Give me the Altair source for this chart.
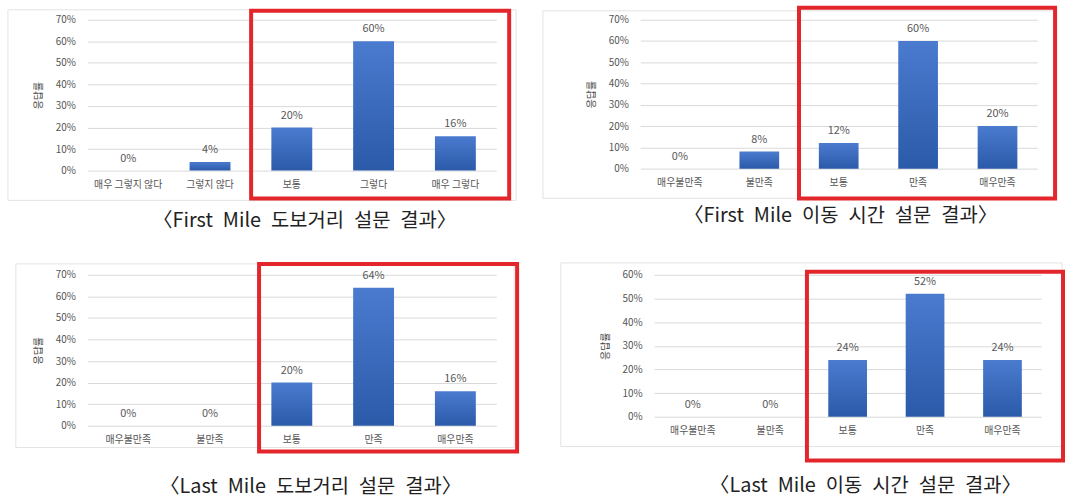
import altair as alt
import pandas as pd

FONT = "Noto Sans CJK KR"

# ---- data ----
cats_agree = ["매우 그렇지 않다", "그렇지 않다", "보통", "그렇다", "매우 그렇다"]
cats_sat = ["매우불만족", "불만족", "보통", "만족", "매우만족"]

p1_vals = [0, 4, 20, 60, 16]
p2_vals = [0, 8, 12, 60, 20]
p3_vals = [0, 0, 20, 64, 16]
p4_vals = [0, 0, 24, 52, 24]

captions = [
    "〈First Mile 도보거리 설문 결과〉",
    "〈First Mile 이동 시간 설문 결과〉",
    "〈Last Mile 도보거리 설문 결과〉",
    "〈Last Mile 이동 시간 설문 결과〉",
]
y_title = "응답률"

bar_fill = alt.Gradient(
    gradient="linear",
    stops=[alt.GradientStop(color="#4b7bcf", offset=0),
           alt.GradientStop(color="#2b5aa9", offset=1)],
    x1=0, x2=0, y1=0, y2=1,
)

SHIFT = 4  # vertical correction of each panel inside its quadrant


def panel(cats, vals, caption, ymax, w, h, bounds, frame, red, cap_xy):
    df = pd.DataFrame({"cat": cats, "pct": vals})
    one = pd.DataFrame({"caption": [caption]})
    ticks = list(range(0, ymax + 1, 10))

    x = alt.X("cat:N", sort=cats,
              scale=alt.Scale(paddingInner=0.5, paddingOuter=0.25),
              axis=alt.Axis(title=None, labelAngle=0, labelPadding=9,
                            labelFontSize=10, labelColor="#555555",
                            labelFont=FONT, grid=False, domain=False, ticks=False))
    y = alt.Y("pct:Q", scale=alt.Scale(domain=[0, ymax], nice=False),
              axis=alt.Axis(title=y_title, values=ticks,
                            labelExpr="datum.value + '%'",
                            labelFontSize=10, labelColor="#555555", labelFont=FONT,
                            labelPadding=12, titleFontSize=10, titleColor="#444444",
                            titleFont=FONT, titleFontWeight="normal", titlePadding=12,
                            grid=True, gridColor="#d9d9d9", domain=False, ticks=False))

    base = alt.Chart(df)
    bars = base.mark_bar(fill=bar_fill).encode(x=x, y=y)
    labels = base.transform_calculate(lbl="datum.pct + '%'").mark_text(
        baseline="bottom", dy=-7, fontSize=11, color="#595959", font=FONT
    ).encode(x=x, y=y, text="lbl:N")

    c = alt.Chart(one)
    bnd = c.mark_rect(opacity=0).encode(
        x=alt.value(bounds[0]), x2=alt.value(bounds[1]),
        y=alt.value(bounds[2] + SHIFT), y2=alt.value(bounds[3] + SHIFT))
    frm = c.mark_rect(fill="white", fillOpacity=0, stroke="#e3e3e3", strokeWidth=1).encode(
        x=alt.value(frame[0]), x2=alt.value(frame[1]),
        y=alt.value(frame[2]), y2=alt.value(frame[3]))
    redbox = c.mark_rect(fill="white", fillOpacity=0, stroke="#e3262c", strokeWidth=4).encode(
        x=alt.value(red[0]), x2=alt.value(red[1]),
        y=alt.value(red[2]), y2=alt.value(red[3]))
    cap = c.transform_calculate(
        wide="replace(datum.caption, / /g, '\u2002')"
    ).mark_text(fontSize=20, color="#222222", font=FONT,
                align="center", baseline="middle").encode(
        x=alt.value(cap_xy[0]), y=alt.value(cap_xy[1]), text="wide:N")

    return alt.layer(bnd, frm, bars, labels, redbox, cap).properties(width=w, height=h)


p1 = panel(cats_agree, p1_vals, captions[0], 70, 412, 152,
           (-88, 445, -18, 232), (-80, 432, -10, 182), (165, 425, -9, 180), (219, 203))
p2 = panel(cats_sat, p2_vals, captions[1], 70, 400, 150,
           (-112, 421, -22, 228), (-98, 417, -9, 180), (160, 418, -12, 180), (202, 198))
p3 = panel(cats_sat, p3_vals, captions[2], 70, 412, 152,
           (-80, 453, -24, 225), (-72, 430, -11, 174), (173, 433, -11, 178), (225, 214))
p4 = panel(cats_sat, p4_vals, captions[3], 60, 390, 143,
           (-118, 415, -25, 224), (-94, 411, -12, 173), (154, 412, -3, 187), (213, 213))

chart = alt.vconcat(
    alt.hconcat(p1, p2, spacing=0),
    alt.hconcat(p3, p4, spacing=0),
    spacing=0,
).properties(padding=0, background="white").configure_view(stroke=None)

chart.save("out.html", embed_options={"renderer": "svg", "actions": False})
